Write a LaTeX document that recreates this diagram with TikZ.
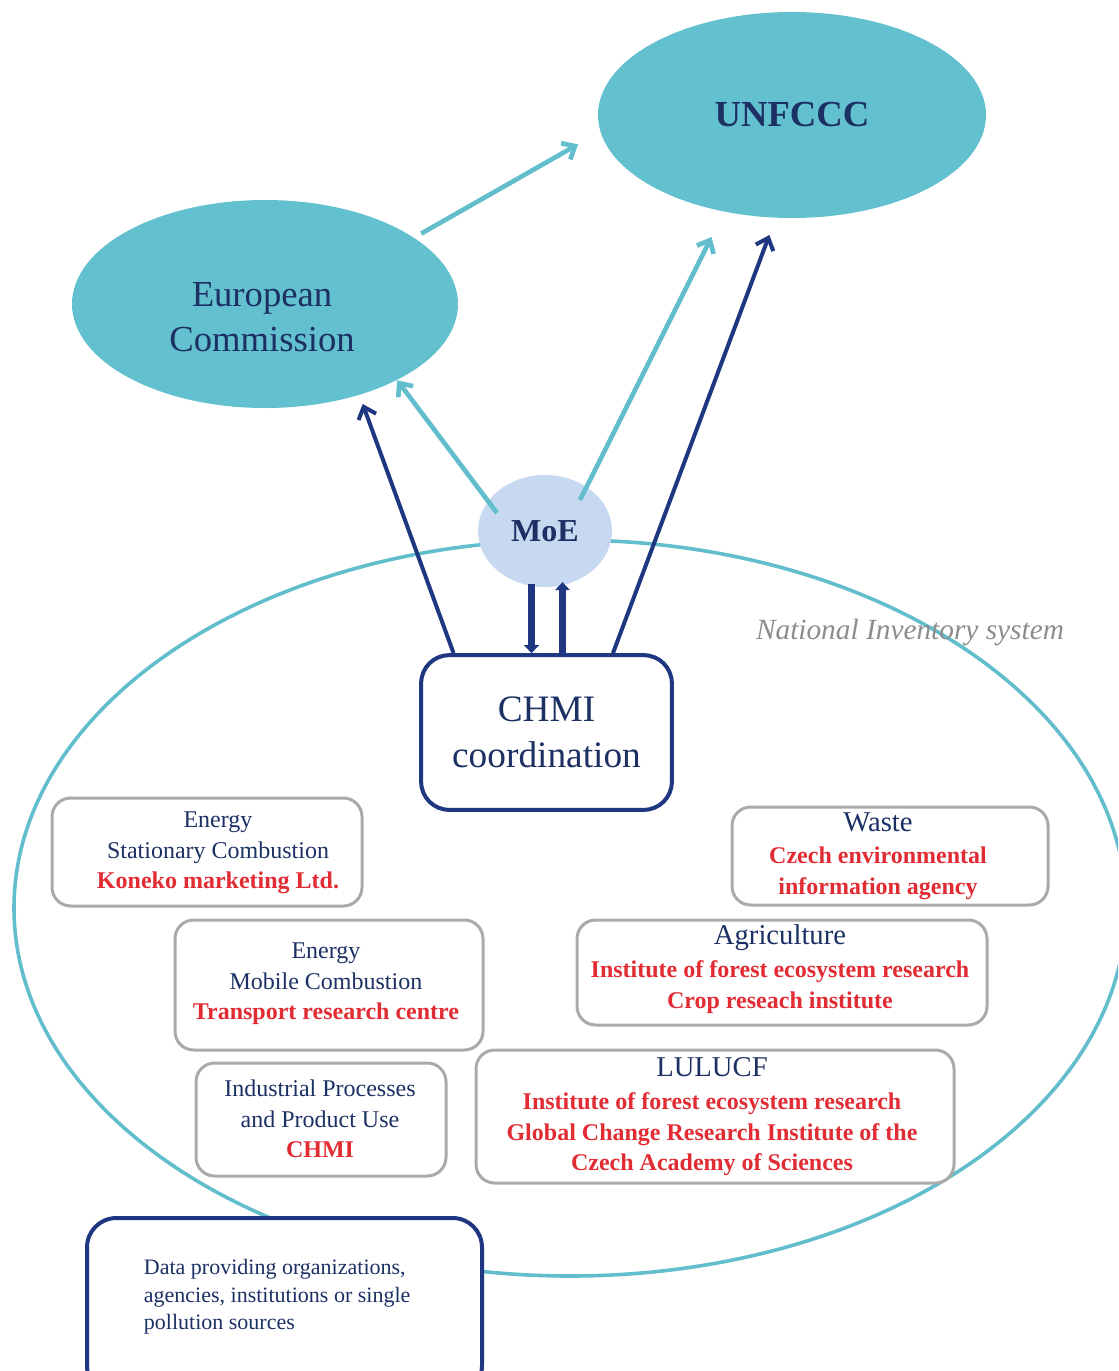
\documentclass[tikz,border=0pt]{standalone}
\usepackage{fontspec}
\setmainfont{Liberation Serif}
\usetikzlibrary{shapes.geometric,arrows.meta,calc}

\definecolor{ovalfill}{RGB}{99,192,207}
\definecolor{moefill}{RGB}{198,217,240}
\definecolor{navyline}{RGB}{30,55,128}
\definecolor{tealline}{RGB}{98,190,204}
\definecolor{navytxt}{RGB}{28,48,100}
\definecolor{redtxt}{RGB}{226,44,52}
\definecolor{boxgray}{RGB}{170,170,170}

\tikzset{every picture/.style={line width=0.75pt}}
\tikzset{
  oval/.style={ellipse, fill=ovalfill, inner sep=0pt, text=navytxt},
  moenode/.style={ellipse, fill=moefill, inner sep=0pt, minimum width=100.5pt, minimum height=84pt, text=navytxt, font=\fontsize{24}{28}\selectfont\bfseries},
  chmibox/.style={rectangle, draw=navyline, line width=3pt, rounded corners=21pt, fill=white, minimum width=188pt, minimum height=116pt, align=center, text=navytxt, font=\fontsize{28}{34.5}\selectfont},
  navyarr/.style={draw=navyline, line width=3pt, -{Straight Barb[length=8pt,width=14pt]}},
  tealarr/.style={draw=tealline, line width=3.5pt, -{Straight Barb[length=8pt,width=14pt]}},
  fatarr/.style={draw=navyline, line width=5pt, -{Triangle[length=6pt,width=11pt]}},
  catbox/.style={draw=boxgray, line width=2.25pt, rounded corners=14pt, fill=white},
  cattext/.style={align=center, text=navytxt, font=\fontsize{18}{23}\selectfont},
  databox/.style={draw=navyline, line width=3pt, rounded corners=22pt, fill=white},
}
\newcommand{\orgname}[1]{\textcolor{redtxt}{\textbf{#1}}}
\newcommand{\hdfont}{\fontsize{21.5}{26}\selectfont}

\begin{document}
\begin{tikzpicture}[x=0.75pt,y=0.75pt,yscale=-1,xscale=1]
\useasboundingbox (0,0) rectangle (1118,1371);
\clip (0,0) rectangle (1118,1371);

%Shape: Ellipse [national inventory system]
\draw [color=tealline, line width=2.7pt] (570,908) ellipse [x radius=556, y radius=368];

%Shape: Ellipse [UNFCCC]
\draw (792,115) node [oval, minimum width=291pt, minimum height=154.5pt, font=\fontsize{27.5}{33}\selectfont\bfseries] (un) {UNFCCC};
%Shape: Ellipse [European Commission]
\draw (265,304) node [oval, minimum width=289.5pt, minimum height=156pt] (ec) {};
% Text Node
\draw (262,317) node [align=center, text=navytxt, font=\fontsize{27.5}{34}\selectfont] (ectext) {European\\Commission};
%Shape: Ellipse [MoE]
\draw (545,531) node [moenode] (moe) {MoE};

%Shape: Rectangle [CHMI]
\draw (546.5,732.5) node [chmibox] (chmi) {CHMI\\coordination};

% Text Node
\draw (910,632) node [text={rgb,255:red,140;green,140;blue,140}, font=\fontsize{22}{26}\selectfont\itshape] (nis) {National Inventory system};

%Straight Lines [EC to UNFCCC]
\draw [tealarr, shorten <=6pt, shorten >=19pt] (ec.24) -- (un.185);
%Straight Lines [MoE to EC]
\draw [tealarr] ($(moe)+(-48,-18)$) -- (ec.-30);
%Straight Lines [MoE to UNFCCC]
\draw [tealarr, shorten >=21pt] ($(moe)+(35,-31)$) -- (un.235);
%Straight Lines [CHMI to EC]
\draw [navyarr, shorten >=7pt] ($(chmi.north west)!0.135!(chmi.north east)$) -- (ec.-44.5);
%Straight Lines [CHMI to UNFCCC]
\draw [navyarr, shorten >=13.5pt] ($(chmi.north west)!0.761!(chmi.north east)$) -- (un.261);

%Straight Lines [MoE <-> CHMI]
\coordinate (dn) at ($(chmi.north)+(-15,0)$);
\coordinate (up) at ($(chmi.north)+(16,0)$);
\draw [fatarr, shorten <=-3pt] (dn |- moe.south) -- (dn);
\draw [fatarr, shorten >=-4pt] (up) -- (up |- moe.south);

%Shape: Rectangle [stationary]
\draw [catbox] (52,798) rectangle (362,906);
%Shape: Rectangle [mobile]
\draw [catbox] (175,920) rectangle (483,1050);
%Shape: Rectangle [ippu]
\draw [catbox] (196,1063) rectangle (446,1176);
%Shape: Rectangle [waste]
\draw [catbox] (732,807) rectangle (1048,905);
%Shape: Rectangle [agriculture]
\draw [catbox] (577,920) rectangle (987,1025);
%Shape: Rectangle [lulucf]
\draw [catbox] (476,1050) rectangle (954,1183);

% Text Node
\draw (218,853) node [cattext] (stat) {Energy\\Stationary Combustion\\\orgname{Koneko marketing Ltd.}};
% Text Node
\draw (326,984) node [cattext] (mob) {Energy\\Mobile Combustion\\\orgname{Transport research centre}};
% Text Node
\draw (320,1119) node [cattext] (ippu) {Industrial Processes\\and Product Use\\\orgname{CHMI}};
% Text Node
\draw (878,856) node [cattext] (waste) {{\hdfont Waste}\\[1.5pt]\orgname{Czech environmental}\\\orgname{information agency}};
% Text Node
\draw (780,969) node [cattext] (agri) {{\hdfont Agriculture}\\[1.5pt]\orgname{Institute of forest ecosystem research}\\\orgname{Crop reseach institute}};
% Text Node
\draw (712,1117) node [cattext] (lulucf) {{\hdfont LULUCF}\\[1.5pt]\orgname{Institute of forest ecosystem research}\\\orgname{Global Change Research Institute of the}\\\orgname{Czech Academy of Sciences}};

%Shape: Rectangle [data providers]
\draw [databox] (87,1218) rectangle (482,1395);
% Text Node
\draw (139,1297) node [anchor=west, align=left, text=navytxt, font=\fontsize{16.5}{20.6}\selectfont] (data) {Data providing organizations,\\agencies, institutions or single\\pollution sources};

\end{tikzpicture}
\end{document}
